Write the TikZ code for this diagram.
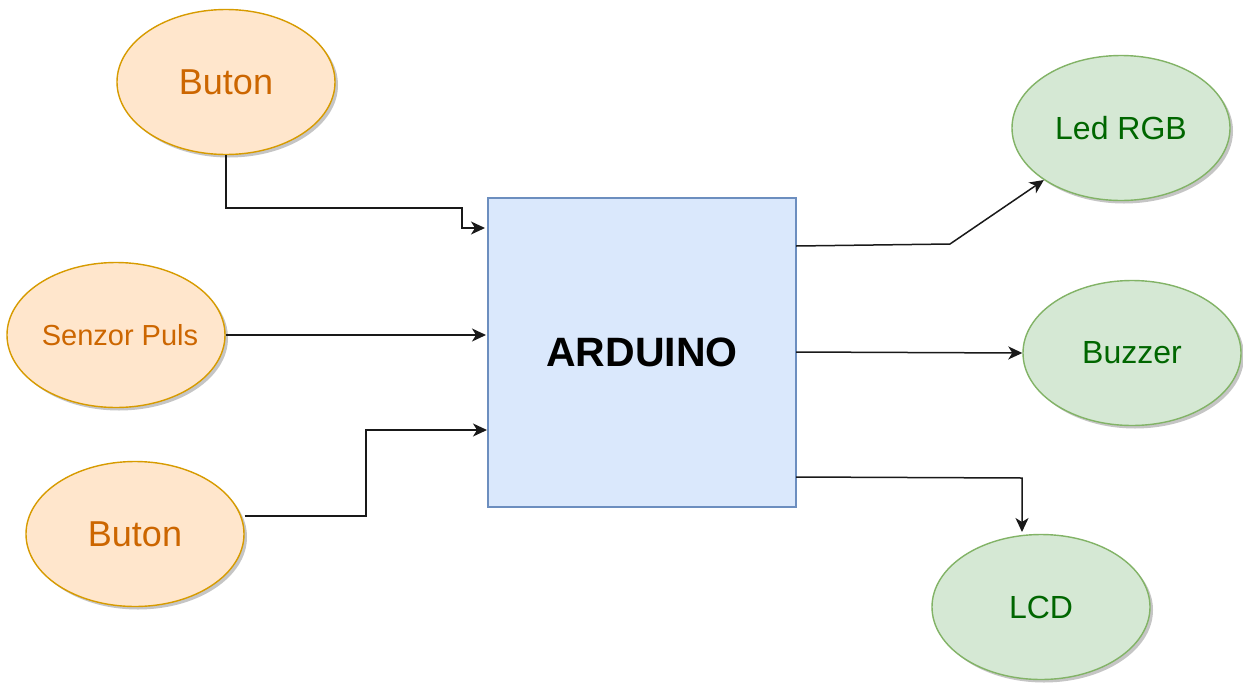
\documentclass[tikz,border=0pt]{standalone}
\usepackage{fontspec}
\setmainfont{Liberation Sans}
\usetikzlibrary{shapes.geometric,arrows.meta,shadows}
\definecolor{ofill}{HTML}{FFE6CC}
\definecolor{odraw}{HTML}{D79B00}
\definecolor{otext}{HTML}{CC6600}
\definecolor{gfill}{HTML}{D5E8D4}
\definecolor{gdraw}{HTML}{82B366}
\definecolor{gtext}{HTML}{006600}
\definecolor{bfill}{HTML}{DAE8FC}
\definecolor{bdraw}{HTML}{6C8EBF}
\tikzset{
  shad/.style={drop shadow={shadow xshift=3pt,shadow yshift=-3pt,fill=black!45,opacity=0.5}},
  oell/.style={ellipse,draw=odraw,fill=ofill,line width=1.4pt,minimum width=218pt,minimum height=145pt,inner sep=0pt,text=otext,shad},
  gell/.style={ellipse,draw=gdraw,fill=gfill,line width=1.4pt,minimum width=218pt,minimum height=145pt,inner sep=0pt,text=gtext,shad},
  board/.style={rectangle,draw=bdraw,fill=bfill,line width=1.3pt,minimum width=308pt,minimum height=309pt,inner sep=0pt},
  arr/.style={draw=black!90,line width=1.5pt,-{Stealth[length=14pt,width=13pt,inset=4pt]}}
}
\begin{document}
\begin{tikzpicture}[x=1pt,y=-1pt]
\useasboundingbox[fill=white] (0,0) rectangle (1243,686);
\node[oell,font=\fontsize{36}{40}\selectfont] (b1) at (226,82) {Buton};
\node[oell,font=\fontsize{29}{33}\selectfont] (sp) at (116,335) {\makebox[0pt]{\hspace*{8pt}Senzor Puls}};
\node[oell,font=\fontsize{36}{40}\selectfont] (b2) at (135,534) {Buton};
\node[board,font=\fontsize{41}{45}\selectfont\bfseries] (ard) at (642,352.5) {ARDUINO};
\node[gell,font=\fontsize{32}{36}\selectfont] (led) at (1121,128) {Led RGB};
\node[gell,font=\fontsize{32}{36}\selectfont] (buz) at (1132,353) {Buzzer};
\node[gell,font=\fontsize{32}{36}\selectfont] (lcd) at (1041,607) {LCD};
\coordinate (k1) at (462,208);
\coordinate (e1) at (485,228);
\coordinate (e2) at (486,335);
\coordinate (k3) at (366,430);
\coordinate (e3) at (487,430);
\coordinate (s4) at (796,246);
\coordinate (k4) at (950,244);
\coordinate (s5) at (796,352);
\coordinate (s6) at (796,477);
\coordinate (k6) at (1022,478);
\coordinate (e6) at (1022,532);
\draw[arr] (b1.south) |- (k1) |- (e1);
\draw[arr] (sp.east) -- (e2);
\draw[arr] (b2.east |- 0,516) -| (k3) -- (e3);
\draw[arr] (s4) -- (k4) -- (led.-146);
\draw[arr] (s5) -- (buz.west);
\draw[arr] (s6) -- (k6) -- (e6);
\end{tikzpicture}
\end{document}
